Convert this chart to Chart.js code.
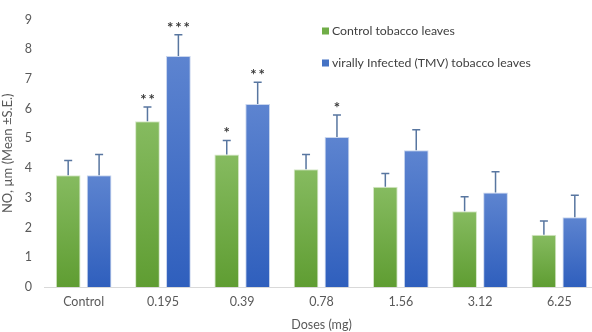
<!DOCTYPE html>
<html>
<head>
<meta charset="utf-8">
<script src="https://cdn.jsdelivr.net/npm/chart.js@4.4.1/dist/chart.umd.min.js"></script>
<style>
  html, body { margin: 0; padding: 0; background: #fff; overflow: hidden; }
  #wrap { width: 592px; height: 332px; overflow: hidden; }
  #box { width: 604px; height: 332px; position: relative; }
</style>
</head>
<body>
<div id="wrap"><div id="box"><canvas id="myChart"></canvas></div></div>
<script>
// Chart data
const doses = ["Control", "0.195", "0.39", "0.78", "1.56", "3.12", "6.25"];
const controlLeaves = [3.76, 5.58, 4.46, 3.96, 3.37, 2.55, 1.76];
const controlSE = [0.5, 0.48, 0.47, 0.5, 0.45, 0.49, 0.46];
const infectedLeaves = [3.76, 7.77, 6.16, 5.05, 4.6, 3.18, 2.35];
const infectedSE = [0.7, 0.72, 0.73, 0.74, 0.69, 0.7, 0.74];
const controlStars = ["", "**", "*", "", "", "", ""];
const infectedStars = ["", "***", "**", "*", "", "", ""];
const yTicks = [0, 1, 2, 3, 4, 5, 6, 7, 8, 9];

const FONT = "Lato, 'Open Sans', sans-serif";
const ctx = document.getElementById("myChart");

// vertical gradient per bar
function barFill(top, bottom) {
  return (context) => {
    const chart = context.chart;
    const y = chart.scales.y;
    if (!chart.chartArea || !y || context.parsed === undefined) return bottom;
    const y0 = y.getPixelForValue(context.parsed.y);
    const y1 = y.getPixelForValue(0);
    if (!isFinite(y0) || !isFinite(y1) || y0 === y1) return bottom;
    const g = chart.ctx.createLinearGradient(0, y0, 0, y1);
    g.addColorStop(0, top);
    g.addColorStop(1, bottom);
    return g;
  };
}

// error bars (upper whisker only) + significance stars
const errorBars = {
  id: "errorBars",
  afterDatasetsDraw: (chart) => {
    const c = chart.ctx;
    const y = chart.scales.y;
    const errs = [controlSE, infectedSE];
    const stars = [controlStars, infectedStars];
    chart.data.datasets.forEach((ds, di) => {
      chart.getDatasetMeta(di).data.forEach((bar, i) => {
        const top = y.getPixelForValue(ds.data[i] + errs[di][i]);
        c.save();
        c.strokeStyle = "#5876a0";
        c.lineWidth = 1.5;
        c.beginPath();
        c.moveTo(bar.x, bar.y);
        c.lineTo(bar.x, top);
        c.moveTo(bar.x - 4, top);
        c.lineTo(bar.x + 4, top);
        c.stroke();
        if (stars[di][i]) {
          c.fillStyle = "#3a3a3a";
          c.font = "bold 15px " + FONT;
          c.textAlign = "center";
          c.textBaseline = "middle";
          c.fillText(stars[di][i].split("").join("\u2009"), bar.x, top - 7);
        }
        c.restore();
      });
    });
  },
};

// legend stacked in the upper right
const sideLegend = {
  id: "sideLegend",
  afterDraw: (chart) => {
    const c = chart.ctx;
    c.save();
    c.font = "12.3px " + FONT;
    c.textBaseline = "middle";
    chart.data.datasets.forEach((ds, i) => {
      const ly = 31 + i * 32;
      c.fillStyle = ds.legendColor;
      c.fillRect(322, ly - 3.5, 7, 7);
      c.fillStyle = "#404040";
      c.fillText(ds.label, 332, ly);
    });
    c.restore();
  },
};

const data = {
  labels: doses,
  datasets: [
    {
      label: "Control tobacco leaves",
      data: controlLeaves,
      backgroundColor: barFill("#86bb60", "#5f9d32"),
      legendColor: "#70ad47",
      borderColor: "#d6e8c8",
      borderWidth: 1,
    },
    {
      label: "virally Infected (TMV) tobacco leaves",
      data: infectedLeaves,
      backgroundColor: barFill("#5d84d0", "#2f5fbd"),
      legendColor: "#4472c4",
      borderColor: "#c9d6ee",
      borderWidth: 1,
    },
  ],
};

const options = {
  responsive: true,
  maintainAspectRatio: false,
  animation: false,
  layout: { padding: { top: 17, right: 5, left: 0, bottom: 0 } },
  categoryPercentage: 0.78,
  barPercentage: 0.8,
  plugins: {
    legend: { display: false },
    tooltip: { enabled: false },
  },
  scales: {
    x: {
      grid: { display: false, drawTicks: false },
      border: { display: true, color: "#d9d9d9", width: 1 },
      ticks: { color: "#595959", font: { family: FONT, size: 12.5 }, padding: 7 },
      title: {
        display: true,
        text: "Doses (mg)",
        color: "#595959",
        font: { family: FONT, size: 12.5 },
        padding: { top: 0, bottom: 0 },
      },
      afterFit: (scale) => { scale.height = 45; },
    },
    y: {
      min: 0,
      max: 9,
      afterBuildTicks: (scale) => { scale.ticks = yTicks.map((v) => ({ value: v })); },
      grid: { display: false, drawTicks: false },
      border: { display: false },
      ticks: { color: "#595959", font: { family: FONT, size: 12.5 }, padding: 12 },
      title: {
        display: true,
        text: "NO, µm (Mean ±S.E.)",
        color: "#595959",
        font: { family: FONT, size: 13 },
        padding: { top: 0, bottom: 0 },
      },
      afterFit: (scale) => { scale.width = 44; },
    },
  },
};

new Chart(ctx, {
  type: "bar",
  data,
  options,
  plugins: [errorBars, sideLegend],
});
</script>
</body>
</html>
